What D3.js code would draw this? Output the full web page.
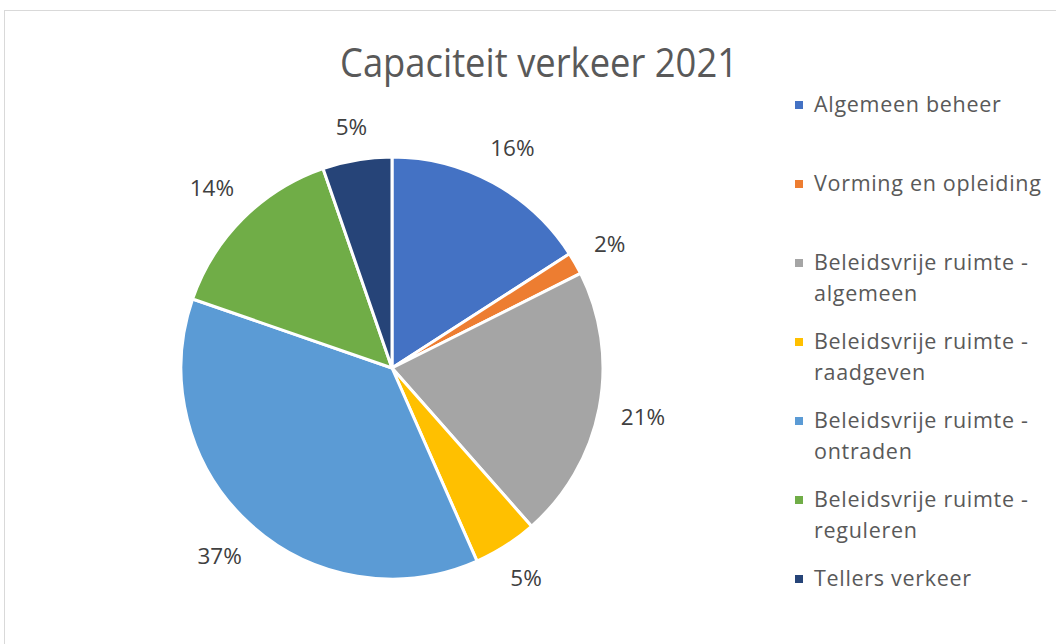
<!DOCTYPE html>
<html>
<head>
<meta charset="utf-8">
<script src="https://cdn.jsdelivr.net/npm/d3@7"></script>
<style>
  html, body { margin: 0; padding: 0; background: #fff; }
  svg { display: block; }
</style>
</head>
<body>
<div id="chart"></div>
<script>
const title = "Capaciteit verkeer 2021";
const categories = [
  "Algemeen beheer",
  "Vorming en opleiding",
  "Beleidsvrije ruimte - algemeen",
  "Beleidsvrije ruimte - raadgeven",
  "Beleidsvrije ruimte - ontraden",
  "Beleidsvrije ruimte - reguleren",
  "Tellers verkeer"
];
const legendLines = [
  ["Algemeen beheer"],
  ["Vorming en opleiding"],
  ["Beleidsvrije ruimte -", "algemeen"],
  ["Beleidsvrije ruimte -", "raadgeven"],
  ["Beleidsvrije ruimte -", "ontraden"],
  ["Beleidsvrije ruimte -", "reguleren"],
  ["Tellers verkeer"]
];
const values = [15.9, 1.7, 20.9, 4.9, 36.9, 14.4, 5.3];
const colors = ["#4472C4", "#ED7D31", "#A5A5A5", "#FFC000", "#5B9BD5", "#70AD47", "#264478"];

const W = 1056, H = 644;
const cx = 392, cy = 368, R = 211;
const FONT = "'Open Sans', 'Liberation Sans', sans-serif";

const svg = d3.select("#chart").append("svg").attr("width", W).attr("height", H);

svg.append("rect")
  .attr("x", 4.5).attr("y", 10.5)
  .attr("width", W + 10).attr("height", H + 10)
  .attr("fill", "#fff").attr("stroke", "#d9d9d9").attr("stroke-width", 1);

svg.append("text")
  .attr("x", 539).attr("y", 77)
  .attr("text-anchor", "middle")
  .attr("font-family", FONT).attr("font-size", 41)
  .attr("fill", "#595959")
  .attr("textLength", 398).attr("lengthAdjust", "spacingAndGlyphs")
  .text(title);

const total = d3.sum(values);
const pie = d3.pie().sort(null).value(d => d)(values);
const arc = d3.arc().innerRadius(0).outerRadius(R);

const g = svg.append("g").attr("transform", `translate(${cx},${cy})`);
g.selectAll("path.slice").data(pie).join("path")
  .attr("class", "slice")
  .attr("d", arc)
  .attr("fill", (d, i) => colors[i])
  .attr("stroke", "#fff").attr("stroke-width", 3).attr("stroke-linejoin", "round");

const fmt = d3.format(".0%");
const labelFont = 22.5;
const gap = 21;
g.selectAll("text.lbl").data(pie).join("text")
  .attr("class", "lbl")
  .attr("font-family", FONT).attr("font-size", labelFont)
  .attr("fill", "#404040")
  .attr("text-anchor", "middle")
  .attr("dominant-baseline", "central")
  .text(d => fmt(d.value / total))
  .each(function(d) {
    const a = (d.startAngle + d.endAngle) / 2;
    const w = this.getComputedTextLength();
    const h = 20;
    const s = Math.sin(a), c = Math.cos(a);
    const dist = R + gap + (w / 2) * Math.abs(s) + (h / 2) * Math.abs(c);
    d3.select(this).attr("x", dist * s).attr("y", -dist * c);
  });

const leg = svg.append("g");
const legX = 795, legTop = 112, legStep = 79, lineH = 31;
const items = leg.selectAll("g.item").data(categories).join("g")
  .attr("class", "item")
  .attr("transform", (d, i) => `translate(${legX},${legTop + i * legStep})`);
items.append("rect")
  .attr("x", 0).attr("y", -11).attr("width", 8).attr("height", 8)
  .attr("fill", (d, i) => colors[i]);
items.append("text")
  .attr("x", 19).attr("y", 0)
  .attr("font-family", FONT).attr("font-size", 21.5)
  .attr("letter-spacing", 0.7)
  .attr("fill", "#595959")
  .selectAll("tspan").data((d, i) => legendLines[i]).join("tspan")
  .attr("x", 19).attr("dy", (d, j) => j === 0 ? 0 : lineH)
  .text(d => d);
</script>
</body>
</html>
